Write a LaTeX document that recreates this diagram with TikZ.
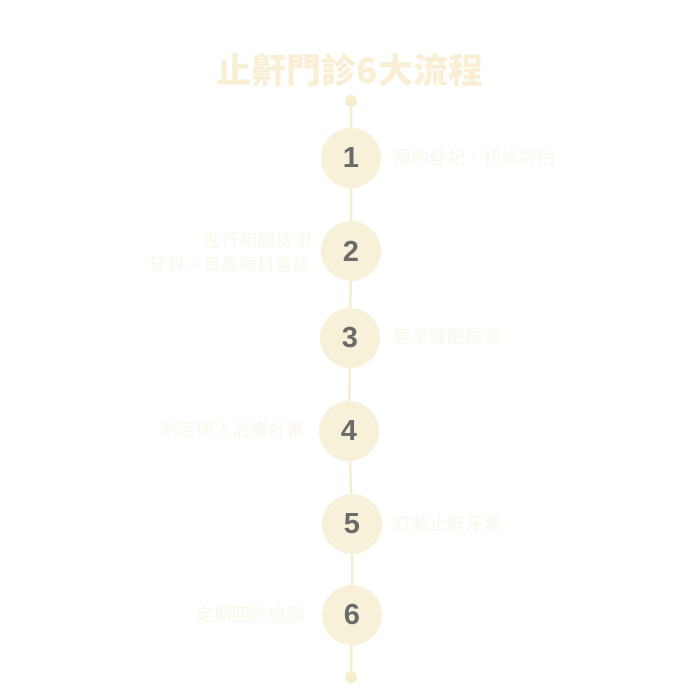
\documentclass[tikz,border=0pt]{standalone}
\usepackage{fontspec}
\setmainfont{Liberation Sans}
\newfontfamily\cjk{Noto Sans CJK TC}
\usetikzlibrary{positioning}
\definecolor{cream}{HTML}{F8F1DA}
\definecolor{creamline}{HTML}{F6EDCF}
\definecolor{titlecol}{HTML}{F8EFD4}
\definecolor{labelcol}{HTML}{FAF6EA}
\definecolor{numcol}{HTML}{6B6B6B}
\tikzset{
  stepdot/.style={circle, fill=cream, minimum size=60pt, inner sep=0pt,
    font=\bfseries\fontsize{29}{29}\selectfont, text=numcol},
  steptext/.style={font=\cjk\fontsize{18}{24}\selectfont, text=labelcol, inner sep=0pt, align=right},
  flow/.style={creamline, line width=2.5pt}
}
\begin{document}
\begin{tikzpicture}[x=1pt, y=-1pt]
    \useasboundingbox (0,0) rectangle (700,700);
    \node[font=\cjk\bfseries\fontsize{35}{35}\selectfont, text=titlecol] (title) at (350,70) {止鼾門診6大流程};
    \coordinate (top) at (351,101);
    \coordinate (bot) at (351,677);
    \node[stepdot] (c1) at (351,158) {1};
    \node[stepdot] (c2) at (351,251) {2};
    \node[stepdot] (c3) at (350,338) {3};
    \node[stepdot] (c4) at (349,431) {4};
    \node[stepdot] (c5) at (352,524) {5};
    \node[stepdot] (c6) at (352,615) {6};
    \begin{scope}[on background layer/.style={}]
    \end{scope}
    \draw[flow] (top) -- (c1) (c1) -- (c2) (c2) -- (c3) (c3) -- (c4) (c4) -- (c5) (c5) -- (c6) (c6) -- (bot);
    \fill[creamline] (top) circle (6pt) (bot) circle (6pt);
    \node[steptext, anchor=west] (t1) at (393,158) {預約登記、初診評估};
    \node[steptext, anchor=east] (t2) at (312,253) {進行相關檢測\\牙科、耳鼻喉科會診};
    \node[steptext, anchor=west] (t3) at (393,337) {居家睡眠檢測};
    \node[steptext, anchor=east] (t4) at (305,430) {制定個人治療計畫};
    \node[steptext, anchor=west] (t5) at (393,524) {訂製止鼾牙套};
    \node[steptext, anchor=east] (t6) at (305,615) {定期回診追蹤};
\end{tikzpicture}
\end{document}
